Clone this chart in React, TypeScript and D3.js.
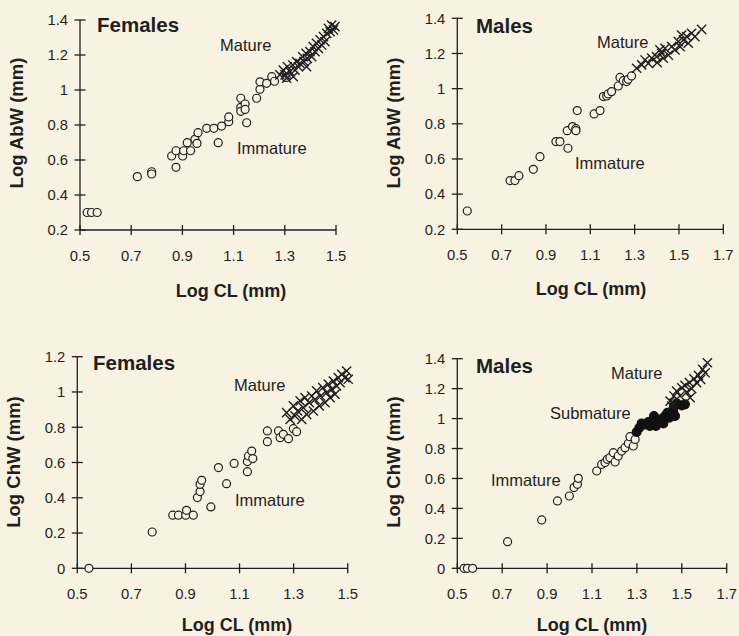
import React from 'react';
import * as d3 from 'd3';

type Pt = [number, number];

const W = 739;
const H = 636;
const BG = '#f8f2e2';
const INK = '#1f1f1f';
const FONT = '"Liberation Sans", Arial, Helvetica, sans-serif';

// tick values
const clTicksShort = [0.5, 0.7, 0.9, 1.1, 1.3, 1.5];
const clTicksLong = [0.5, 0.7, 0.9, 1.1, 1.3, 1.5, 1.7];
const abwTicks = [0.2, 0.4, 0.6, 0.8, 1, 1.2, 1.4];
const chwTicksFemale = [0, 0.2, 0.4, 0.6, 0.8, 1, 1.2];
const chwTicksMale = [0, 0.2, 0.4, 0.6, 0.8, 1, 1.2, 1.4];

// Females, log AbW vs log CL
const femAbwImmature: Pt[] = [
  [0.528, 0.3], [0.545, 0.3], [0.567, 0.3], [0.724, 0.505], [0.78, 0.533], [0.78, 0.52],
  [0.858, 0.623], [0.875, 0.653], [0.875, 0.558], [0.901, 0.623], [0.905, 0.653], [0.919, 0.699],
  [0.932, 0.653], [0.949, 0.718], [0.957, 0.695], [0.961, 0.756], [0.995, 0.781], [1.023, 0.781],
  [1.04, 0.699], [1.053, 0.794], [1.081, 0.819], [1.081, 0.846], [1.128, 0.953], [1.128, 0.901],
  [1.128, 0.878], [1.145, 0.92], [1.145, 0.889], [1.151, 0.813], [1.19, 0.953], [1.203, 1.004],
  [1.203, 1.047], [1.229, 1.038], [1.249, 1.076], [1.26, 1.05], [1.305, 1.072],
];
const femAbwMature: Pt[] = [
  [1.281, 1.086], [1.294, 1.114], [1.301, 1.086], [1.307, 1.067], [1.31, 1.133], [1.32, 1.105],
  [1.331, 1.143], [1.333, 1.076], [1.34, 1.114], [1.346, 1.162], [1.353, 1.133], [1.359, 1.152],
  [1.37, 1.19], [1.375, 1.162], [1.383, 1.21], [1.385, 1.133], [1.388, 1.181], [1.398, 1.219],
  [1.405, 1.19], [1.411, 1.248], [1.418, 1.219], [1.424, 1.267], [1.431, 1.238], [1.438, 1.286],
  [1.444, 1.257], [1.451, 1.305], [1.457, 1.276], [1.464, 1.324], [1.47, 1.352], [1.477, 1.333],
  [1.483, 1.371], [1.49, 1.343], [1.496, 1.362],
];

// Males, log AbW vs log CL
const maleAbwImmature: Pt[] = [
  [0.545, 0.304], [0.738, 0.477], [0.76, 0.477], [0.778, 0.505], [0.843, 0.541], [0.873, 0.613],
  [0.945, 0.699], [0.963, 0.699], [0.996, 0.761], [0.999, 0.661], [1.02, 0.784], [1.035, 0.772],
  [1.035, 0.761], [1.041, 0.875], [1.117, 0.856], [1.144, 0.875], [1.159, 0.955], [1.174, 0.958],
  [1.181, 0.97], [1.196, 0.983], [1.226, 1.015], [1.234, 1.064], [1.249, 1.045], [1.264, 1.04],
  [1.271, 1.053], [1.286, 1.072],
];
const maleAbwMature: Pt[] = [
  [1.309, 1.116], [1.332, 1.135], [1.347, 1.163], [1.362, 1.144], [1.377, 1.173], [1.399, 1.182],
  [1.402, 1.148], [1.414, 1.22], [1.422, 1.201], [1.429, 1.173], [1.437, 1.229], [1.452, 1.191],
  [1.467, 1.239], [1.482, 1.22], [1.497, 1.267], [1.505, 1.239], [1.512, 1.305], [1.52, 1.277],
  [1.535, 1.296], [1.542, 1.258], [1.557, 1.315], [1.572, 1.296], [1.602, 1.337],
];

// Females, log ChW vs log CL
const femChwImmature: Pt[] = [
  [0.543, 0], [0.777, 0.206], [0.853, 0.301], [0.874, 0.301], [0.901, 0.301], [0.904, 0.329],
  [0.929, 0.301], [0.944, 0.401], [0.954, 0.435], [0.954, 0.476], [0.96, 0.499], [0.994, 0.348],
  [1.022, 0.571], [1.052, 0.48], [1.08, 0.595], [1.129, 0.548], [1.129, 0.605], [1.133, 0.637],
  [1.145, 0.665], [1.149, 0.622], [1.203, 0.779], [1.203, 0.718], [1.244, 0.779], [1.25, 0.741],
  [1.262, 0.76], [1.281, 0.735], [1.299, 0.792], [1.311, 0.775],
];
const femChwMature: Pt[] = [
  [1.274, 0.883], [1.287, 0.845], [1.299, 0.921], [1.305, 0.864], [1.315, 0.892], [1.324, 0.949],
  [1.33, 0.845], [1.336, 0.911], [1.342, 0.968], [1.348, 0.873], [1.358, 0.94], [1.367, 0.977],
  [1.373, 0.892], [1.379, 0.958], [1.385, 1.006], [1.395, 0.921], [1.4, 0.977], [1.408, 1.025],
  [1.416, 0.94], [1.422, 0.996], [1.428, 1.044], [1.435, 0.968], [1.441, 1.015], [1.447, 1.062],
  [1.453, 0.987], [1.459, 1.034], [1.465, 1.081], [1.472, 1.053], [1.478, 1.1], [1.49, 1.081],
  [1.496, 1.119], [1.502, 1.072],
];

// Males, log ChW vs log CL
const maleChwImmature: Pt[] = [
  [0.53, 0], [0.545, 0], [0.568, 0], [0.724, 0.178], [0.876, 0.323], [0.946, 0.45],
  [0.999, 0.483], [1.02, 0.539], [1.035, 0.561], [1.039, 0.601], [1.121, 0.65], [1.143, 0.694],
  [1.158, 0.706], [1.168, 0.728], [1.18, 0.739], [1.195, 0.772], [1.203, 0.71], [1.217, 0.75],
  [1.232, 0.783], [1.247, 0.806], [1.262, 0.835], [1.269, 0.879], [1.284, 0.817], [1.292, 0.861],
];
const maleChwSubmature: Pt[] = [
  [1.299, 0.91], [1.311, 0.939], [1.321, 0.968], [1.336, 0.961], [1.351, 0.977], [1.358, 0.95],
  [1.37, 0.99], [1.376, 1.017], [1.385, 0.95], [1.396, 0.977], [1.406, 0.995], [1.418, 0.968],
  [1.425, 1.017], [1.436, 1.039], [1.445, 1.006], [1.455, 1.028], [1.462, 1.051], [1.47, 1.017],
  [1.465, 1.084], [1.477, 1.102], [1.5, 1.088], [1.514, 1.095],
];
const maleChwMature: Pt[] = [
  [1.448, 1.117], [1.455, 1.084], [1.462, 1.102], [1.465, 1.151], [1.477, 1.184], [1.492, 1.151],
  [1.5, 1.206], [1.514, 1.222], [1.522, 1.177], [1.534, 1.24], [1.537, 1.14], [1.544, 1.2],
  [1.554, 1.266], [1.566, 1.24], [1.574, 1.289], [1.584, 1.262], [1.593, 1.329], [1.604, 1.306],
  [1.614, 1.373],
];

type Label = { text: string; x: number; y: number; bold?: boolean; size: number };

type PanelSpec = {
  id: string;
  xTicks: number[];
  yTicks: number[];
  frame: { left: number; right: number; bottom: number; top: number };
  yTitle: string;
  yTitlePos: [number, number];
  xTitlePos: [number, number];
  immature: Pt[];
  submature: Pt[];
  mature: Pt[];
  labels: Label[];
};

const panels: PanelSpec[] = [
  {
    id: 'fa', xTicks: clTicksShort, yTicks: abwTicks,
    frame: { left: 80, right: 336, bottom: 230, top: 20 },
    yTitle: 'Log AbW (mm)', yTitlePos: [23, 123], xTitlePos: [231, 297],
    immature: femAbwImmature, submature: [], mature: femAbwMature,
    labels: [
      { text: 'Females', x: 97, y: 31.7, bold: true, size: 20.5 },
      { text: 'Mature', x: 220, y: 50.5, size: 16.5 },
      { text: 'Immature', x: 237, y: 153.5, size: 16.5 },
    ],
  },
  {
    id: 'ma', xTicks: clTicksLong, yTicks: abwTicks,
    frame: { left: 457.3, right: 723.3, bottom: 229.3, top: 18.3 },
    yTitle: 'Log AbW (mm)', yTitlePos: [400, 123], xTitlePos: [591, 295],
    immature: maleAbwImmature, submature: [], mature: maleAbwMature,
    labels: [
      { text: 'Males', x: 476, y: 33, bold: true, size: 20.5 },
      { text: 'Mature', x: 597, y: 48, size: 16.5 },
      { text: 'Immature', x: 575, y: 169, size: 16.5 },
    ],
  },
  {
    id: 'fc', xTicks: clTicksShort, yTicks: chwTicksFemale,
    frame: { left: 77.3, right: 347.7, bottom: 568.3, top: 356.7 },
    yTitle: 'Log ChW (mm)', yTitlePos: [20, 462], xTitlePos: [237, 630.5],
    immature: femChwImmature, submature: [], mature: femChwMature,
    labels: [
      { text: 'Females', x: 93, y: 370, bold: true, size: 20.5 },
      { text: 'Mature', x: 234, y: 390.5, size: 16.5 },
      { text: 'Immature', x: 235, y: 505.5, size: 16.5 },
    ],
  },
  {
    id: 'mc', xTicks: clTicksLong, yTicks: chwTicksMale,
    frame: { left: 457.3, right: 726.7, bottom: 568.3, top: 358.7 },
    yTitle: 'Log ChW (mm)', yTitlePos: [400, 462], xTitlePos: [592, 630.5],
    immature: maleChwImmature, submature: maleChwSubmature, mature: maleChwMature,
    labels: [
      { text: 'Males', x: 476, y: 373, bold: true, size: 20.5 },
      { text: 'Mature', x: 611, y: 379, size: 16.5 },
      { text: 'Submature', x: 550, y: 419, size: 16.5 },
      { text: 'Immature', x: 491, y: 485.5, size: 16.5 },
    ],
  },
];

const fmt = (v: number) => String(+v.toFixed(1));
const crossPath = 'M-4.6,-4.6L4.6,4.6M4.6,-4.6L-4.6,4.6';

function Panel({ p }: { p: PanelSpec }) {
  const { frame } = p;
  const xScale = d3.scaleLinear()
    .domain(d3.extent(p.xTicks) as [number, number])
    .range([frame.left, frame.right]);
  const yScale = d3.scaleLinear()
    .domain(d3.extent(p.yTicks) as [number, number])
    .range([frame.bottom, frame.top]);
  return (
    <g>
      {/* axes */}
      <line x1={frame.left} x2={frame.right} y1={frame.bottom} y2={frame.bottom} stroke={INK} strokeWidth={1.3} />
      <line x1={frame.left} x2={frame.left} y1={frame.bottom} y2={frame.top} stroke={INK} strokeWidth={1.3} />
      {p.xTicks.map((t) => (
        <g key={'x' + t}>
          <line x1={xScale(t)} x2={xScale(t)} y1={frame.bottom - 5} y2={frame.bottom + 5} stroke={INK} strokeWidth={1.3} />
          <text x={xScale(t)} y={frame.bottom + 30.5} textAnchor="middle" fontSize={14.8} fill={INK}>{fmt(t)}</text>
        </g>
      ))}
      {p.yTicks.map((t) => (
        <g key={'y' + t}>
          <line x1={frame.left - 5.5} x2={frame.left + 5.5} y1={yScale(t)} y2={yScale(t)} stroke={INK} strokeWidth={1.3} />
          <text x={frame.left - 12} y={yScale(t)} dy="0.36em" textAnchor="end" fontSize={14.8} fill={INK}>{fmt(t)}</text>
        </g>
      ))}
      <text transform={`translate(${p.yTitlePos[0]},${p.yTitlePos[1]}) rotate(-90)`} textAnchor="middle"
        fontSize={18.5} fontWeight="bold" fill={INK}>{p.yTitle}</text>
      <text x={p.xTitlePos[0]} y={p.xTitlePos[1]} textAnchor="middle" fontSize={18} fontWeight="bold" fill={INK}>Log CL (mm)</text>

      {/* marks */}
      {p.immature.map((d, i) => (
        <circle key={'i' + i} cx={xScale(d[0])} cy={yScale(d[1])} r={4} fill={BG} stroke={INK} strokeWidth={1.2} />
      ))}
      {p.submature.map((d, i) => (
        <circle key={'s' + i} cx={xScale(d[0])} cy={yScale(d[1])} r={4.4} fill="#111" stroke="#111" strokeWidth={1.2} />
      ))}
      {p.mature.map((d, i) => (
        <path key={'m' + i} transform={`translate(${xScale(d[0])},${yScale(d[1])})`} d={crossPath}
          fill="none" stroke={INK} strokeWidth={1.4} />
      ))}

      {p.labels.map((l) => (
        <text key={l.text} x={l.x} y={l.y} fontSize={l.size} fontWeight={l.bold ? 'bold' : 'normal'} fill={INK}>{l.text}</text>
      ))}
    </g>
  );
}

export default function App() {
  return (
    <svg width={W} height={H} style={{ position: 'absolute', left: 0, top: 0, fontFamily: FONT }}>
      <rect width={W} height={H} fill={BG} />
      {panels.map((p) => <Panel key={p.id} p={p} />)}
    </svg>
  );
}
